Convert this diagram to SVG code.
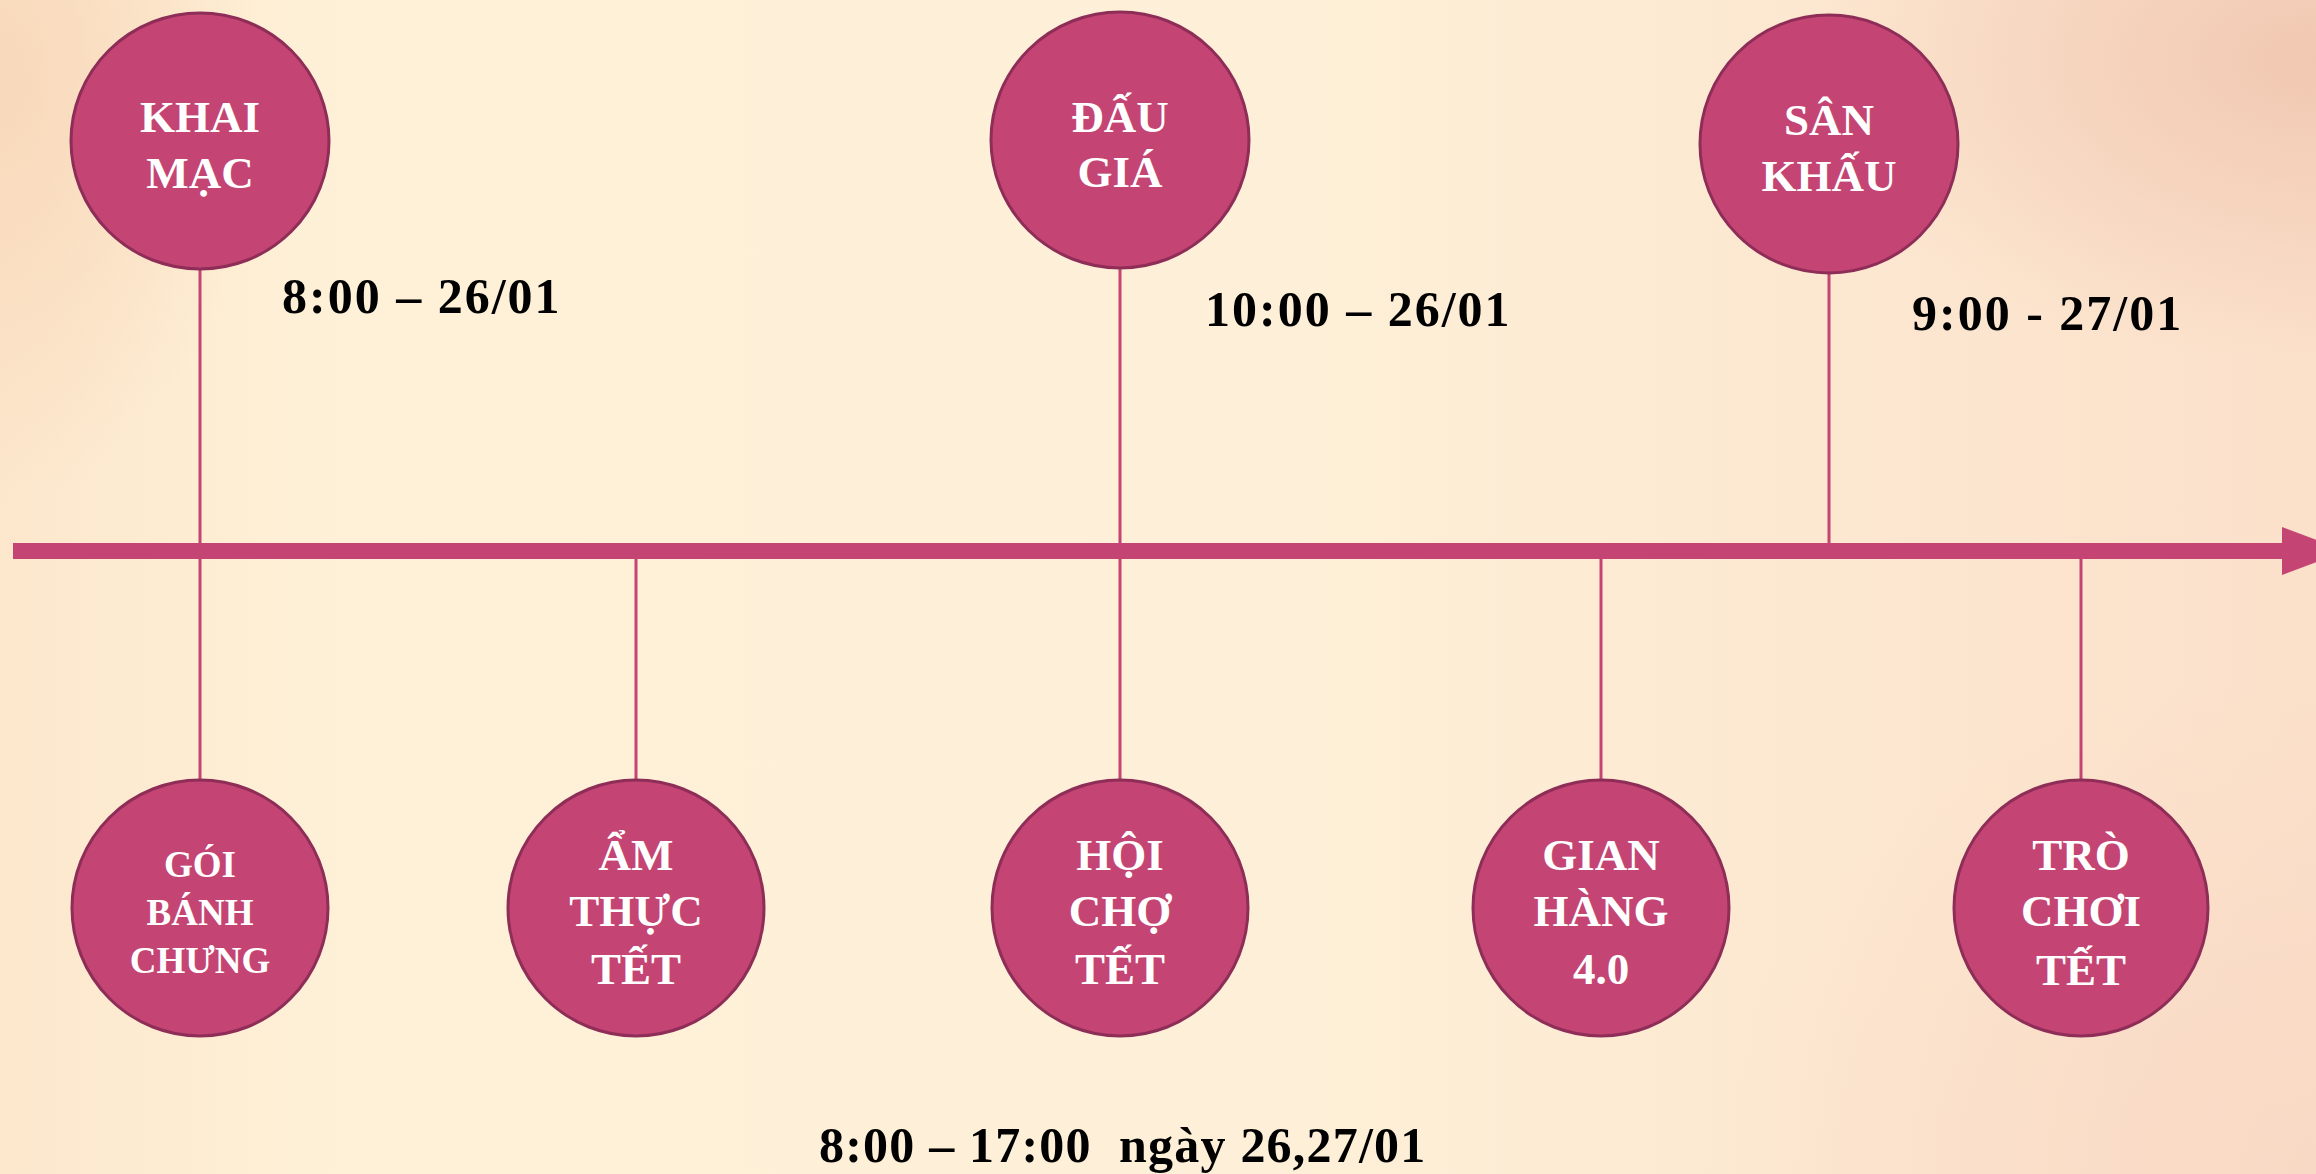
<svg xmlns="http://www.w3.org/2000/svg" width="2316" height="1174" viewBox="0 0 2316 1174">
<style>
.node{fill:#C44573;stroke:#8E2E58;stroke-width:3}
.lbl{font-family:"Liberation Serif","DejaVu Serif",serif;font-weight:bold;fill:#FFFFFF;text-anchor:middle}
.big{font-size:45px}
.sm{font-size:37px}
.time{font-family:"Liberation Serif","DejaVu Serif",serif;font-weight:bold;font-size:50px;fill:#000000;letter-spacing:2px}
.stem{stroke:#C44573;stroke-width:3}
</style>
<defs>
<linearGradient id="bg" x1="0" y1="0" x2="1" y2="0">
<stop offset="0" stop-color="#FCE7CC"/>
<stop offset="0.15" stop-color="#FEF1D8"/>
<stop offset="0.55" stop-color="#FEF0D8"/>
<stop offset="1" stop-color="#FBE0CA"/>
</linearGradient>
<radialGradient id="tl" cx="0" cy="0" r="1" gradientUnits="userSpaceOnUse" gradientTransform="translate(0,80) scale(260,420)">
<stop offset="0" stop-color="#F8D6B8" stop-opacity="0.9"/>
<stop offset="1" stop-color="#F8D6B8" stop-opacity="0"/>
</radialGradient>
<radialGradient id="tr" cx="0" cy="0" r="1" gradientUnits="userSpaceOnUse" gradientTransform="translate(2316,60) scale(520,300)">
<stop offset="0" stop-color="#F1C8B2" stop-opacity="1"/>
<stop offset="1" stop-color="#F1C8B2" stop-opacity="0"/>
</radialGradient>
<radialGradient id="br" cx="0" cy="0" r="1" gradientUnits="userSpaceOnUse" gradientTransform="translate(2316,1174) scale(600,500)">
<stop offset="0" stop-color="#F8D8C4" stop-opacity="0.9"/>
<stop offset="1" stop-color="#F8D8C4" stop-opacity="0"/>
</radialGradient>
</defs>
<rect x="0" y="0" width="2316" height="1174" fill="url(#bg)"/>
<rect x="0" y="0" width="2316" height="1174" fill="url(#tl)"/>
<rect x="0" y="0" width="2316" height="1174" fill="url(#tr)"/>
<rect x="0" y="0" width="2316" height="1174" fill="url(#br)"/>

<g id="connectors">
<rect x="13" y="543" width="2271" height="16" fill="#C44573"/>
<polygon points="2282,527 2346,551 2282,575" fill="#C44573"/>
<line class="stem" x1="200" y1="269" x2="200" y2="543"/>
<line class="stem" x1="1120" y1="268" x2="1120" y2="543"/>
<line class="stem" x1="1829" y1="273" x2="1829" y2="543"/>
<line class="stem" x1="200" y1="559" x2="200" y2="780"/>
<line class="stem" x1="636" y1="559" x2="636" y2="780"/>
<line class="stem" x1="1120" y1="559" x2="1120" y2="780"/>
<line class="stem" x1="1601" y1="559" x2="1601" y2="780"/>
<line class="stem" x1="2081" y1="559" x2="2081" y2="780"/>
</g>

<g id="khai-mac">
<ellipse class="node" cx="200" cy="141" rx="129" ry="128"/>
<text class="lbl big" x="200" y="132">KHAI</text>
<text class="lbl big" x="200" y="188">MẠC</text>
</g>
<g id="dau-gia">
<ellipse class="node" cx="1120" cy="140" rx="129" ry="128"/>
<text class="lbl big" x="1120" y="132">ĐẤU</text>
<text class="lbl big" x="1120" y="187">GIÁ</text>
</g>
<g id="san-khau">
<ellipse class="node" cx="1829" cy="144" rx="129" ry="129"/>
<text class="lbl big" x="1829" y="135">SÂN</text>
<text class="lbl big" x="1829" y="191">KHẤU</text>
</g>

<g id="goi-banh-chung">
<ellipse class="node" cx="200" cy="908" rx="128" ry="128"/>
<text class="lbl sm" x="200" y="877">GÓI</text>
<text class="lbl sm" x="200" y="925">BÁNH</text>
<text class="lbl sm" x="200" y="973">CHƯNG</text>
</g>
<g id="am-thuc-tet">
<ellipse class="node" cx="636" cy="908" rx="128" ry="128"/>
<text class="lbl big" x="636" y="870">ẨM</text>
<text class="lbl big" x="636" y="926">THỰC</text>
<text class="lbl big" x="636" y="984">TẾT</text>
</g>
<g id="hoi-cho-tet">
<ellipse class="node" cx="1120" cy="908" rx="128" ry="128"/>
<text class="lbl big" x="1120" y="870">HỘI</text>
<text class="lbl big" x="1120" y="926">CHỢ</text>
<text class="lbl big" x="1120" y="984">TẾT</text>
</g>
<g id="gian-hang">
<ellipse class="node" cx="1601" cy="908" rx="128" ry="128"/>
<text class="lbl big" x="1601" y="870">GIAN</text>
<text class="lbl big" x="1601" y="926">HÀNG</text>
<text class="lbl big" x="1601" y="984">4.0</text>
</g>
<g id="tro-choi-tet">
<ellipse class="node" cx="2081" cy="908" rx="127" ry="128"/>
<text class="lbl big" x="2081" y="870">TRÒ</text>
<text class="lbl big" x="2081" y="926">CHƠI</text>
<text class="lbl big" x="2081" y="985">TẾT</text>
</g>

<g id="times">
<text class="time" x="282" y="313">8:00 – 26/01</text>
<text class="time" x="1205" y="326">10:00 – 26/01</text>
<text class="time" x="1912" y="330">9:00 - 27/01</text>
<text class="time" x="819" y="1162" xml:space="preserve" style="letter-spacing:1.2px">8:00 – 17:00  ngày 26,27/01</text>
</g>
</svg>
